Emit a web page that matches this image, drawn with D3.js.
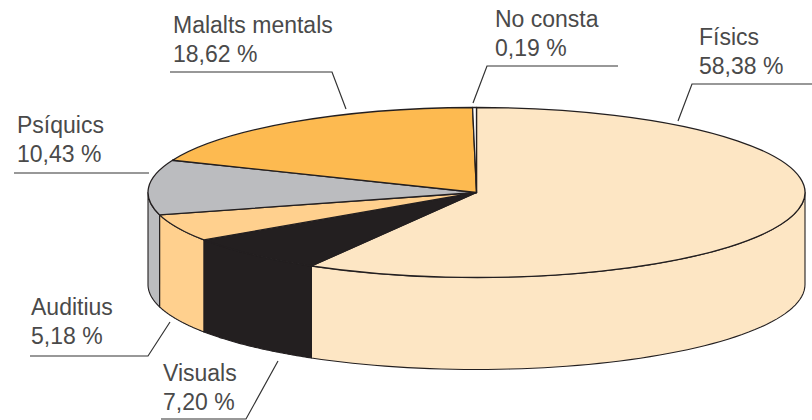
<!DOCTYPE html>
<html><head><meta charset="utf-8">
<script src="https://cdn.jsdelivr.net/npm/d3@7"></script>
<style>html,body{margin:0;padding:0;background:#fff}svg{display:block}
text{font-family:"Liberation Sans",Arial,sans-serif;font-weight:400;font-size:23px;fill:#4a4a4a}</style>
</head><body><svg id="c" width="812" height="420"></svg>
<script>
const categories = ["Físics","Visuals","Auditius","Psíquics","Malalts mentals","No consta"];
const values = [58.38,7.20,5.18,10.43,18.62,0.19];
const valueLabels = ["58,38 %","7,20 %","5,18 %","10,43 %","18,62 %","0,19 %"];
const colors = ["#fde6c4","#231f20","#ffd08e","#bbbcbf","#fdba50","#ffffff"];

const cx=476.5, cy=192.5, rx=328.5, ry=85, depth=92;
const svg=d3.select("#c");
const pie=d3.pie().sort(null).value(d=>d);
const arcs=pie(values);
const arc=d3.arc().innerRadius(0).outerRadius(rx);
const px=a=>cx+rx*Math.sin(a), py=a=>cy-ry*Math.cos(a);

// side walls (visible front half only)
const wall=d3.line().curve(d3.curveLinear);
const walls=svg.append("g");
arcs.forEach((d,i)=>{
  const a0=Math.max(d.startAngle,Math.PI/2), a1=Math.min(d.endAngle,Math.PI*1.5);
  if(a1<=a0) return;
  const ang=d3.range(0,61).map(k=>a0+(a1-a0)*k/60);
  const pts=ang.map(a=>[px(a),py(a)]).concat(ang.slice().reverse().map(a=>[px(a),py(a)+depth]));
  walls.append("path").attr("d",wall(pts)+"Z").attr("fill",colors[i])
    .attr("stroke","#231f20").attr("stroke-width",1.1).attr("stroke-linejoin","round");
});

// top face
const topFace=svg.append("g").attr("transform",`translate(${cx},${cy}) scale(1,${ry/rx})`);
topFace.selectAll("path").data(arcs).join("path").attr("d",arc)
  .attr("fill",(d,i)=>colors[i]).attr("stroke","#231f20").attr("stroke-width",1.3)
  .attr("stroke-linejoin","round").attr("vector-effect","non-scaling-stroke");

// labels and leaders
const labelX=[699,163,31,17,173,495];
const labelY=[45,381,315,133,33,27];
const leaders=[
 [[678,121],[692,84],[812,84]],
 [[278,361],[246,419],[161,419]],
 [[170,322],[148,356],[30,356]],
 [[149,173],[14,173]],
 [[346,109],[332,72],[170,72]],
 [[473,103],[487,66],[618,66]]
];
const lineGen=d3.line();
leaders.forEach(l=>svg.append("path").attr("d",lineGen(l)).attr("fill","none").attr("stroke","#333").attr("stroke-width",1.2));
categories.forEach((c,i)=>{
  svg.append("text").attr("x",labelX[i]).attr("y",labelY[i]).text(c);
  svg.append("text").attr("x",labelX[i]).attr("y",labelY[i]+29).text(valueLabels[i]);
});
</script></body></html>
